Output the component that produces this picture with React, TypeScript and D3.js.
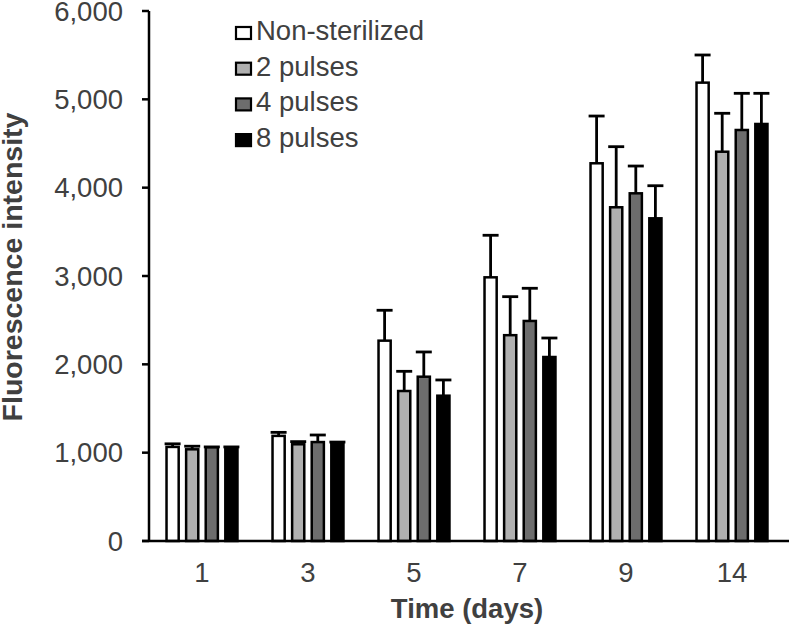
import React from "react";
import * as d3 from "d3";

const days = ["1", "3", "5", "7", "9", "14"];
const seriesNames = ["Non-sterilized", "2 pulses", "4 pulses", "8 pulses"];
const seriesColors = ["#ffffff", "#b0b0b0", "#6d6d6d", "#000000"];

const nonSterilized = [1065, 1190, 2268, 2985, 4276, 5189];
const pulses2 = [1038, 1095, 1698, 2330, 3778, 4407];
const pulses4 = [1060, 1120, 1860, 2491, 3936, 4653];
const pulses8 = [1060, 1110, 1645, 2083, 3653, 4721];

const errNonSterilized = [35, 40, 344, 476, 535, 313];
const errPulses2 = [35, 30, 223, 436, 686, 435];
const errPulses4 = [5, 80, 280, 370, 309, 415];
const errPulses8 = [5, 10, 178, 215, 369, 347];

const yTicks = [0, 1000, 2000, 3000, 4000, 5000, 6000];

const values = [nonSterilized, pulses2, pulses4, pulses8];
const errors = [errNonSterilized, errPulses2, errPulses4, errPulses8];

const W = 789;
const H = 630;
const left = 149;
const right = 785;
const top = 11;
const bottom = 541;
const textColor = "#404040";
const font = "'Liberation Sans', Arial, Helvetica, sans-serif";

export default function App() {
  const x0 = d3.scaleBand<string>().domain(days).range([left, right]).padding(0);
  const groupW = 78.4;
  const x1 = d3
    .scaleBand<string>()
    .domain(seriesNames)
    .range([-groupW / 2, groupW / 2])
    .paddingInner(0.38)
    .paddingOuter(0.19);
  const y = d3.scaleLinear().domain([0, 6000]).range([bottom, top]);
  const fmt = d3.format(",");
  const bw = x1.bandwidth();
  const capW = 16;

  return (
    <svg
      width={W}
      height={H}
      style={{ position: "absolute", left: 0, top: 0, background: "#fff" }}
      fontFamily={font}
    >
      <rect x={0} y={0} width={W} height={H} fill="#fff" />
      {/* bars */}
      {days.map((d, i) => {
        const cx = (x0(d) as number) + x0.bandwidth() / 2;
        return (
          <g key={d}>
            {seriesNames.map((s, k) => {
              const bx = cx + (x1(s) as number);
              const v = values[k][i];
              const e = errors[k][i];
              const mid = bx + bw / 2;
              return (
                <g key={s}>
                  <line x1={mid} x2={mid} y1={y(v)} y2={y(v + e)} stroke="#000" strokeWidth={2.8} />
                  <line
                    x1={mid - capW / 2}
                    x2={mid + capW / 2}
                    y1={y(v + e)}
                    y2={y(v + e)}
                    stroke="#000"
                    strokeWidth={2.8}
                  />
                  <rect
                    x={bx}
                    y={y(v)}
                    width={bw}
                    height={y(0) - y(v)}
                    fill={seriesColors[k]}
                    stroke="#000"
                    strokeWidth={2.5}
                  />
                </g>
              );
            })}
          </g>
        );
      })}
      {/* y axis */}
      <line x1={left} x2={left} y1={top} y2={bottom} stroke="#000" strokeWidth={2.5} />
      {yTicks.map((t) => (
        <g key={t}>
          <line x1={left - 7} x2={left} y1={y(t)} y2={y(t)} stroke="#000" strokeWidth={2.5} />
          <text
            x={123}
            y={y(t)}
            dy="0.35em"
            textAnchor="end"
            fontSize={27.5}
            fill={textColor}
          >
            {fmt(t)}
          </text>
        </g>
      ))}
      {/* x axis */}
      <line x1={left - 7} x2={W} y1={bottom} y2={bottom} stroke="#000" strokeWidth={2.5} />
      {days.map((d) => (
        <text
          key={d}
          x={(x0(d) as number) + x0.bandwidth() / 2}
          y={582}
          textAnchor="middle"
          fontSize={27.5}
          fill={textColor}
        >
          {d}
        </text>
      ))}
      <text
        x={(left + right) / 2}
        y={618}
        textAnchor="middle"
        fontSize={27.5}
        fontWeight="bold"
        fill={textColor}
      >
        Time (days)
      </text>
      <text
        transform={`translate(22,${267}) rotate(-90)`}
        textAnchor="middle"
        fontSize={28.5}
        fontWeight="bold"
        fill={textColor}
      >
        Fluorescence intensity
      </text>
      {/* legend */}
      {seriesNames.map((s, k) => {
        const base = 40 + k * 35.7;
        return (
          <g key={s}>
            <rect
              x={236}
              y={base - 13}
              width={15}
              height={12}
              fill={seriesColors[k]}
              stroke="#000"
              strokeWidth={2.2}
            />
            <text x={256} y={base} fontSize={27.5} fill={textColor}>
              {s}
            </text>
          </g>
        );
      })}
    </svg>
  );
}
